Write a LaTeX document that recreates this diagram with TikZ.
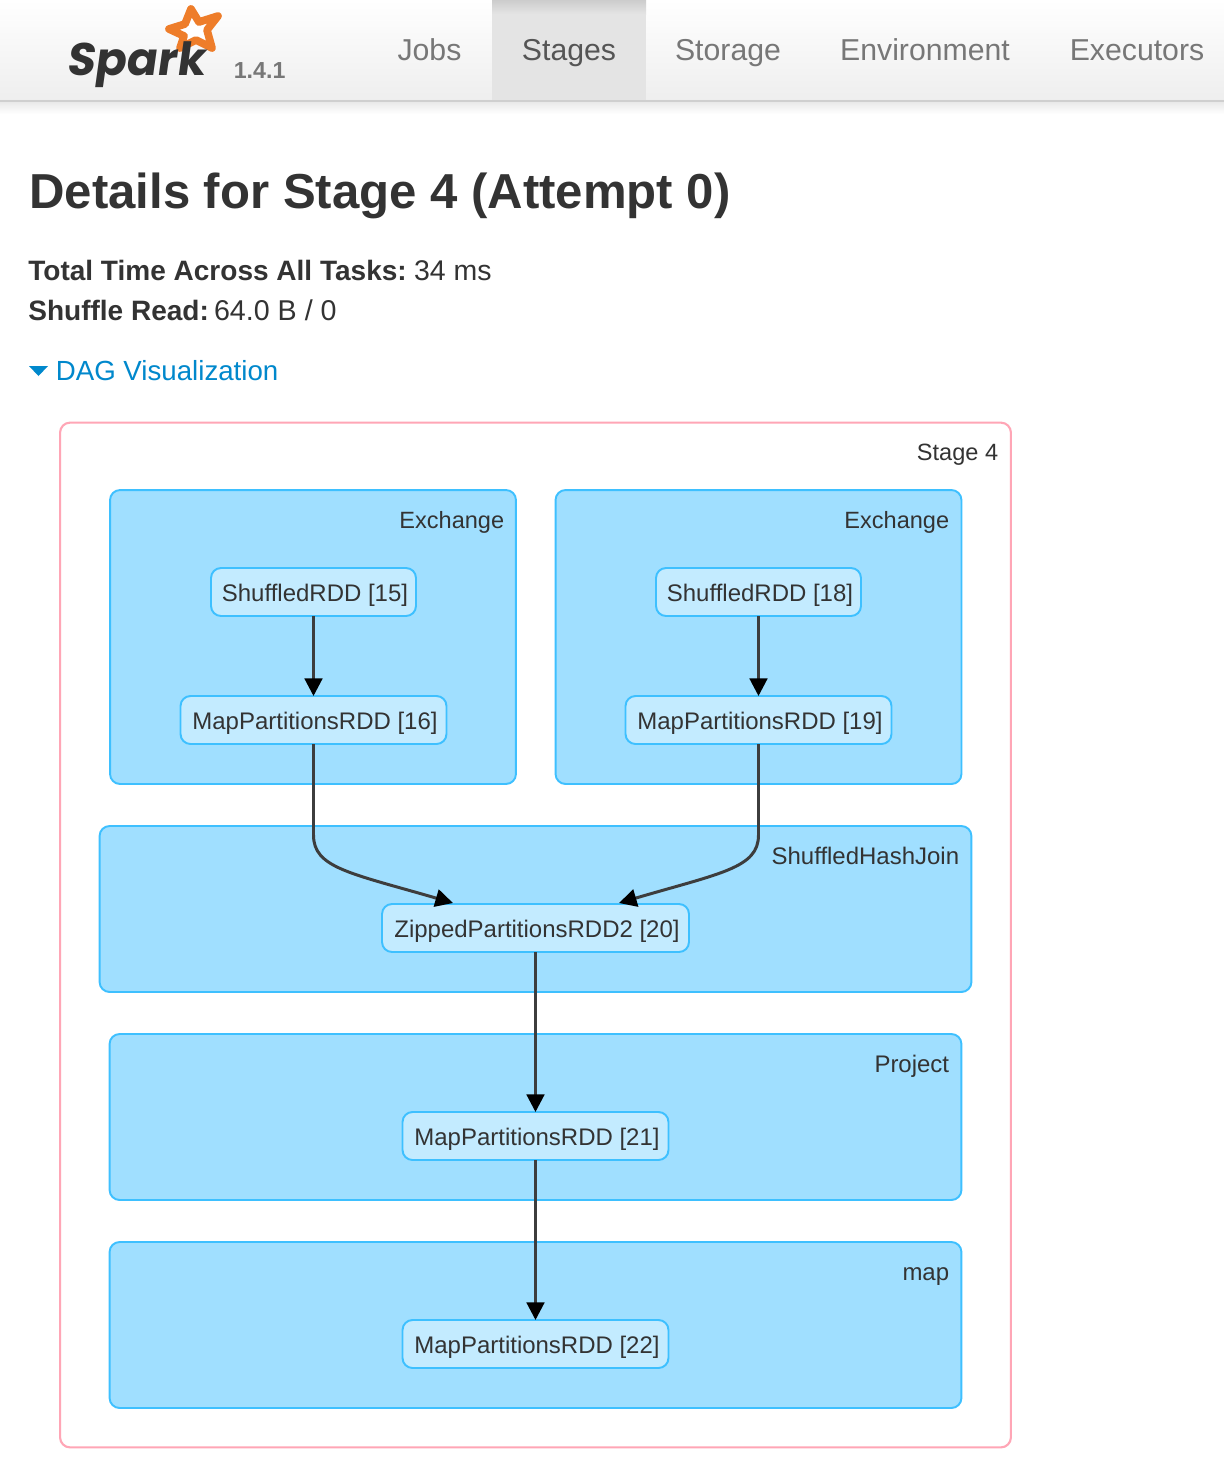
\documentclass[tikz,border=0pt]{standalone}
\usepackage{fontspec}
\setmainfont{Liberation Sans}
\newfontfamily\logofont[FakeSlant=0.14]{Poppins}
\usepackage{xcolor}
\definecolor{sparkink}{HTML}{333333}
\definecolor{sparknav}{HTML}{777777}
\definecolor{sparkactive}{HTML}{555555}
\definecolor{sparkline}{HTML}{cfcfcf}
\definecolor{sparktab}{HTML}{e4e4e4}
\definecolor{sparkorange}{HTML}{ee7d2a}
\definecolor{sparklink}{HTML}{0088cc}
\definecolor{stagepink}{HTML}{ffa6b6}
\definecolor{clusterblue}{HTML}{a0dfff}
\definecolor{rddblue}{HTML}{c3ebff}
\definecolor{strokeblue}{HTML}{3ec0ff}
\definecolor{edgegray}{HTML}{3d3d3d}
\usetikzlibrary{arrows.meta}

\begin{document}
\begin{tikzpicture}[x=0.02cm, y=-0.02cm,
  navitem/.style={anchor=base, font=\fontsize{17.2}{20}\selectfont, text=sparknav, inner sep=0pt},
  stagebox/.style={rectangle, rounded corners=0.2cm, draw=stagepink, fill=white, line width=1.2pt,
    minimum width=19.02cm, minimum height=20.5cm, inner sep=0pt, outer sep=0pt},
  cluster/.style={rectangle, rounded corners=0.2cm, draw=strokeblue, fill=clusterblue, line width=1.1pt,
    minimum height=3.32cm, inner sep=0pt, outer sep=0pt},
  rdd/.style={rectangle, rounded corners=0.2cm, draw=strokeblue, fill=rddblue, line width=1.1pt,
    minimum height=0.96cm, inner sep=0pt, outer sep=0pt, text=sparkink,
    text height=11.3pt, text depth=0pt, execute at begin node={\hspace*{0.06cm}},
    font=\fontsize{13.65}{16}\selectfont},
  caption/.style={anchor=base east, inner sep=0pt, text=sparkink, font=\fontsize{13.65}{16}\selectfont},
  narrowcaption/.style={caption, font=\fontsize{13.4}{16}\selectfont},
  info/.style={anchor=base west, inner sep=0pt, text=sparkink, font=\fontsize{15.95}{18}\selectfont},
  edge/.style={draw=edgegray, line width=1.7pt, -{Triangle[length=10pt, width=10pt, color=black]}}
]
\useasboundingbox (0,0) rectangle (1224,1482);
\fill[white] (0,0) rectangle (1224,1482);

\fill[top color=white, bottom color=sparkline!35] (0,0) rectangle (1224,100);
\fill[top color=sparkline!45, bottom color=white] (0,102) rectangle (1224,114);
\fill[sparktab] (492,0) rectangle (646,100);
\fill[top color=black!20, bottom color=sparktab] (492,0) rectangle (646,14);
\draw[sparkline, line width=1.2pt] (0,101) -- (1224,101);

\draw[sparkorange, fill=white, line width=4.4pt, line join=round]
  (191,9) -- (199,22) -- (218,16) -- (207,30) -- (212,48) -- (196,40) -- (180,48) -- (184,36) -- (169,29) -- (185,24) -- cycle;
\node[anchor=base west, inner sep=0pt, text=sparkink, font=\logofont\fontsize{26}{30}\bfseries] (logo) at (66,75) {Spark};
\node[anchor=base west, inner sep=0pt, text=sparknav, font=\fontsize{13.2}{16}\bfseries] (version) at (233.5,78) {1.4.1};

\node[navitem] (jobs) at (429.5,60) {Jobs};
\node[navitem, text=sparkactive] (stages) at (569,60) {Stages};
\node[navitem] (storage) at (728,60) {Storage};
\node[navitem] (environment) at (925,60) {Environment};
\node[navitem] (executors) at (1137,60) {Executors};

\node[anchor=base west, inner sep=0pt, text=sparkink, font=\fontsize{27.95}{32}\bfseries] (title) at (29,208) {Details for Stage 4 (Attempt 0)};
\node[info] (totaltime) at (28,280) {\textbf{Total Time Across All Tasks:}\hspace{4.2pt}\fontsize{16.2}{18}\selectfont 34 ms};
\node[info] (shuffleread) at (28,320) {\textbf{Shuffle Read:}\hspace{2.9pt}\fontsize{16.3}{18}\selectfont 64.0 B / 0};
\fill[sparklink] (29,366) -- (48,366) -- (38.5,376) -- cycle;
\node[info, text=sparklink, font=\fontsize{15.75}{18}\selectfont] (dag) at (55.5,380.5) {DAG Visualization};

\node[stagebox] (stage) at (535.5,935) {};
\node[narrowcaption] (stagelabel) at (998.5,460) {Stage 4};

\node[cluster, minimum width=8.12cm, minimum height=5.88cm] (exchangea) at (313,637) {};
\node[narrowcaption] (exchangealabel) at (504.5,528) {Exchange};
\node[cluster, minimum width=8.12cm, minimum height=5.88cm] (exchangeb) at (758.5,637) {};
\node[narrowcaption] (exchangeblabel) at (949.5,528) {Exchange};
\node[cluster, minimum width=17.44cm] (join) at (535.5,909) {};
\node[caption] (joinlabel) at (959.5,864) {ShuffledHashJoin};
\node[cluster, minimum width=17.04cm] (project) at (535.5,1117) {};
\node[caption] (projectlabel) at (949.5,1072) {Project};
\node[cluster, minimum width=17.04cm] (mapbox) at (535.5,1325) {};
\node[caption] (maplabel) at (949.5,1280) {map};

\node[rdd, minimum width=4.1cm] (rddfifteen) at (313.5,592) {ShuffledRDD [15]};
\node[rdd, minimum width=5.32cm] (rddsixteen) at (313.5,720) {MapPartitionsRDD [16]};
\node[rdd, minimum width=4.1cm] (rddeighteen) at (758.5,592) {ShuffledRDD [18]};
\node[rdd, minimum width=5.32cm] (rddnineteen) at (758.5,720) {MapPartitionsRDD [19]};
\node[rdd, minimum width=6.14cm] (rddtwenty) at (535.5,928) {ZippedPartitionsRDD2 [20]};
\node[rdd, minimum width=5.32cm] (rddtwentyone) at (535.5,1136) {MapPartitionsRDD [21]};
\node[rdd, minimum width=5.32cm] (rddtwentytwo) at (535.5,1344) {MapPartitionsRDD [22]};

\coordinate (joina) at (453,903);
\coordinate (joinb) at (619,903);
\draw[edge] (rddfifteen) -- (rddsixteen);
\draw[edge] (rddeighteen) -- (rddnineteen);
\draw[edge] (rddsixteen.south) -- (313.5,835) .. controls (313.5,868) and (350,873) .. (joina);
\draw[edge] (rddnineteen.south) -- (758.5,835) .. controls (758.5,868) and (721,873) .. (joinb);
\draw[edge] (rddtwenty) -- (rddtwentyone);
\draw[edge] (rddtwentyone) -- (rddtwentytwo);
\end{tikzpicture}
\end{document}
